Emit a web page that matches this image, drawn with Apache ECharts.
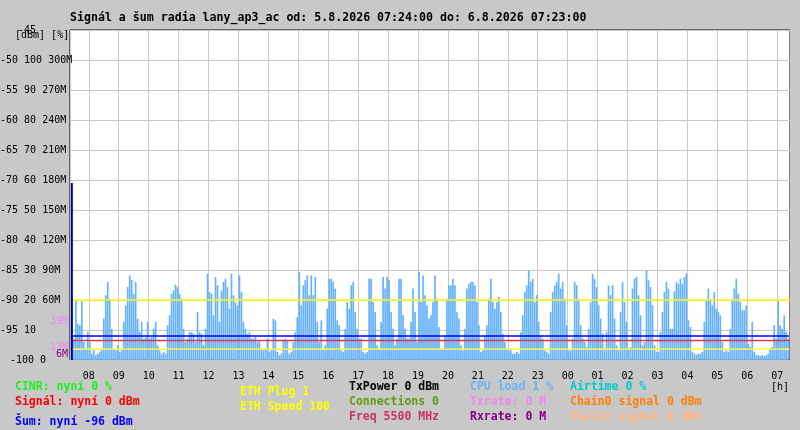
<!DOCTYPE html>
<html><head><meta charset="utf-8">
<script src="https://cdn.jsdelivr.net/npm/echarts@6/dist/echarts.min.js"></script>
<style>html,body{margin:0;padding:0;background:#c8c8c8}#c{width:800px;height:430px}</style>
</head><body><div id="c"></div>
<script>
// ---------- data ----------
const titleText = 'Signál a šum radia lany_ap3_ac od: 5.8.2026 07:24:00 do: 6.8.2026 07:23:00';
const unitsText = '[dBm] [%]';
const hourUnitText = '[h]';
const dbmTicks = [-100, -95, -90, -85, -80, -75, -70, -65, -60, -55, -50, -45];
const pctTicks = ['0', '10', '20', '30', '40', '50', '60', '70', '80', '90', '100', ''];
const mTicks   = ['', '', '60M', '90M', '120M', '150M', '180M', '210M', '240M', '270M', '300M', ''];

// CPU load [%], one sample every 4 minutes from 07:26
const cpuLoad = [
  18.2,7.1,19.9,12.1,11.6,19.6,6,3.8,9.3,6, 2.1,3.8,1.6,2.1,2.7,3.8,13.8,21.6,26,20.4,
  10.4,3.8,3.2,4.9,2.7,3.2,12.7,18.2,24.3,28.2, 26.6,22.1,26,13.8,9.3,12.7,7.1,7.7,12.7,7.1,
  7.7,10.4,12.7,4.9,3.2,2.1,2.7,2.1,11.6,14.9, 22.1,23.2,25.1,24.3,22.1,20.4,10.4,6,7.1,9.3,
  9.3,8.8,6,16,9.3,8.8,4.9,10.4,28.8,22.7, 22.1,14.9,27.7,24.9,12.7,23.2,26,27.1,24.3,17.1,
  28.8,21.6,19.3,18.2,28.2,22.7,12.7,10.4,8.8,9.3, 7.1,7.1,7.7,6,6.6,3.8,3.2,3.8,7.1,2.7,
  3.2,13.8,13.2,2.7,1.6,2.1,6.6,7.1,6.6,2.1, 2.7,6,9.3,14.3,29.3,18.2,24.9,26.6,28.2,21.6,
  28.2,21.6,27.7,12.7,6,13.2,3.8,4.9,17.1,27.1, 27.1,26,23.8,13.2,11.6,3.2,2.7,10.4,19.3,17.1,
  24.9,26,16,10.4,7.1,7.1,2.7,2.1,2.7,27.1, 27.1,19.3,16,4.9,3.8,12.7,27.7,23.8,27.7,26.6,
  16,10.4,4.9,7.1,27.1,27.1,14.9,10.4,7.1,7.1, 12.7,23.8,16,6,29.3,19.3,28.2,21.6,18.2,13.8,
  14.9,19.3,28.2,20.4,11,3.8,3.8,8.2,20.4,24.9, 24.9,27.1,24.9,16,13.8,4.9,3.2,10.4,23.8,25.4,
  26,26,24.9,19.3,11.6,2.7,3.2,8.2,11.6,20.4, 27.1,19.3,17.1,19.3,21,16,8.8,6,3.8,3.2,
  3.2,2.1,2.1,2.7,2.1,9.3,14.9,22.7,24.9,29.9, 26,27.1,19.3,21.6,12.7,8.2,7.1,3.2,2.7,2.1,
  16,22.7,24.9,26,28.8,23.8,26,20.4,11.6,3.2, 3.2,7.1,26,24.9,20.4,11.6,7.1,6,4.3,10.4,
  19.3,28.8,27.1,24.3,18.2,13.8,8.8,3.2,9.3,24.9, 21.6,24.9,13.8,4.9,3.2,16,26,19.3,12.7,3.8,
  4.3,23.8,27.1,27.7,21.6,14.9,4.9,6,29.9,26.6, 24.3,18.2,4.9,2.7,2.7,9.3,16,22.7,26,23.8,
  10.4,10.4,22.9,26,25.4,27.1,25.4,27.7,28.8,13.2, 11,2.7,2.1,1.8,2.1,2.1,2.7,12.7,19.9,23.8,
  20.4,18.2,22.7,17.1,16,14.9,6,2.7,3.2,2.7, 10.4,20.4,23.8,27.1,22.1,19.3,16.6,16.6,18.2,5.4,
  4.3,12.7,2.7,1.6,1.6,1.3,1.6,1.3,1.6,2.1, 3.8,4.3,11.6,7.1,20.4,11.6,10.4,14.9,9.3,7.1
];

// constant levels (dBm scale)
const ethSpeedLevel = -90;
const noiseLevel = -96;
const freqLevel = -96.75;
const ethPlugLevel = -98.2;
const signalFirst = -70.5;      // first signal sample
const txRateMarks = [39, 13];   // [M]
const rxRateMarks = [6];        // [M]

const legendTexts  = ['CINR: nyní 0 %', 'Signál: nyní 0 dBm', 'Šum: nyní -96 dBm', 'ETH Plug 1', 'ETH Speed 100',
  'TxPower 0 dBm', 'Connections 0', 'Freq 5500 MHz', 'CPU load 1 %', 'Txrate: 0 M', 'Rxrate: 0 M',
  'Airtime 0 %', 'Chain0 signal 0 dBm', 'Chain1 signal 0 dBm'];
const legendColors = ['#22ee22', '#ff0000', '#0000ff', '#ffff00', '#ffff00',
  '#000000', '#669911', '#cc3366', '#66b2ff', '#ee88ee', '#880088',
  '#00cccc', '#ff8000', '#ffb380'];

// ---------- layout ----------
const legendPos = [[15,387],[15,402],[15,422],[240,392],[240,407],[349,387],[349,402],[349,417],
  [470,387],[470,402],[470,417],[570,387],[570,402],[570,417]];
const MONO = '"DejaVu Sans Mono", monospace';

const t0 = new Date(2026, 7, 5, 7, 24).getTime();
const MIN = 60000;
const tEnd = t0 + 1440 * MIN;
const cpuData = cpuLoad.map((v, i) => [t0 + (2 + 4 * i) * MIN, v]);

const tickLabel = {};
dbmTicks.forEach((d, i) => { tickLabel[d] = [String(d), pctTicks[i], mTicks[i]].filter(s => s !== '').join(' '); });

function levelSeries(val, color, width) {
  return { type: 'line', xAxisIndex: 0, yAxisIndex: 0, data: [[t0, val], [tEnd, val]],
    symbol: 'none', silent: true, z: 5, lineStyle: { color: color, width: width } };
}

const staticGraphics = [
  { type: 'text', left: 15, top: 30, style: { text: unitsText, fill: '#000', font: '10px ' + MONO } },
  { type: 'text', x: 771, y: 387, style: { text: hourUnitText, fill: '#000', font: '10px ' + MONO, verticalAlign: 'middle' } }
].concat(legendTexts.map((t, i) => ({ type: 'text', x: legendPos[i][0], y: legendPos[i][1],
  style: { text: t, fill: legendColors[i], font: 'bold 11.5px ' + MONO, verticalAlign: 'middle' } })));

const chart = echarts.init(document.getElementById('c'));
chart.setOption({
  animation: false,
  backgroundColor: '#c8c8c8',
  title: { text: titleText, left: 70, top: 12, padding: 0,
    textStyle: { fontFamily: MONO, fontSize: 11.6, fontWeight: 'bold', color: '#000' } },
  grid: { left: 70, right: 10, top: 30, bottom: 70, show: true, backgroundColor: '#ffffff', borderColor: '#000', borderWidth: 1,
    containLabel: false, outerBoundsMode: 'none' },
  xAxis: { type: 'time', min: t0, max: tEnd, minInterval: 3600000, maxInterval: 3600000,
    axisLine: { show: false }, axisTick: { show: false },
    splitLine: { show: true, lineStyle: { color: '#c8c8c8', width: 1 } },
    axisLabel: { margin: 11, color: '#000', fontFamily: MONO, fontSize: 10, showMinLabel: false, showMaxLabel: false,
      formatter: v => String(new Date(v).getHours()).padStart(2, '0') } },
  yAxis: [
    { type: 'value', min: -100, max: -45, interval: 5,
      axisLine: { show: false }, axisTick: { show: false },
      splitLine: { show: true, lineStyle: { color: '#c8c8c8', width: 1 } },
      axisLabel: { margin: 70, align: 'left', color: '#000', fontFamily: MONO, fontSize: 10,
        showMinLabel: true, showMaxLabel: true,
        formatter: v => v === -45 ? '{top|-45}' : (v === -100 ? '{low|-100 0}' : tickLabel[v]),
        rich: { top: { fontFamily: MONO, fontSize: 10, color: '#000', padding: [0, 0, 0, 18] },
                low: { fontFamily: MONO, fontSize: 10, color: '#000', padding: [0, 0, 0, 10] } } } },
    { type: 'value', min: 0, max: 110, show: false },
    { type: 'value', min: 0, max: 330, show: false }
  ],
  series: [
    { type: 'bar', name: 'CPU load', xAxisIndex: 0, yAxisIndex: 1, data: cpuData, barWidth: 1.7,
      itemStyle: { color: '#66b2ff' }, silent: true, z: 2 },
    levelSeries(ethSpeedLevel, '#ffff00', 1.5),
    levelSeries(noiseLevel, '#0000ff', 1.5),
    levelSeries(freqLevel, '#dd3366', 1.5),
    levelSeries(ethPlugLevel, '#ffff44', 1.5),
    { type: 'line', xAxisIndex: 0, yAxisIndex: 0, data: [[t0 + 2 * MIN, -100], [t0 + 2 * MIN, signalFirst]],
      symbol: 'none', silent: true, z: 6, lineStyle: { color: '#0000aa', width: 2 } }
  ],
  graphic: staticGraphics
});

const rateGraphics = [];
txRateMarks.forEach(m => {
  const y = chart.convertToPixel({ yAxisIndex: 2 }, m);
  rateGraphics.push({ type: 'text', x: 68, y: y, style: { text: m + 'M', fill: '#ee88ee', font: '10px ' + MONO, align: 'right', verticalAlign: 'middle' } });
});
rxRateMarks.forEach(m => {
  const y = chart.convertToPixel({ yAxisIndex: 2 }, m);
  rateGraphics.push({ type: 'text', x: 68, y: y, style: { text: m + 'M', fill: '#880088', font: '10px ' + MONO, align: 'right', verticalAlign: 'middle' } });
});
chart.setOption({ graphic: staticGraphics.concat(rateGraphics) });
</script>
</body></html>
